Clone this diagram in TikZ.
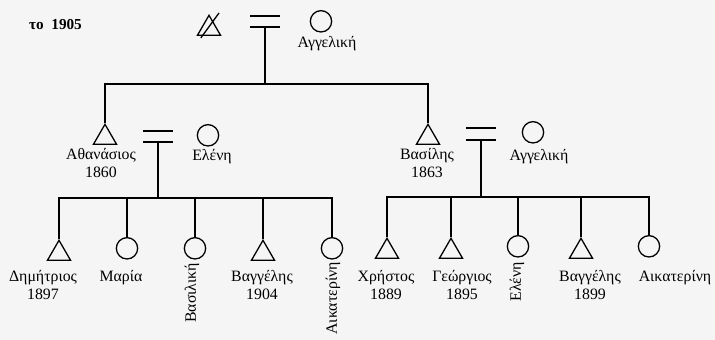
\documentclass[tikz,border=0pt]{standalone}
\usepackage{fontspec}
\setmainfont{Liberation Serif}
\usetikzlibrary{shapes.geometric,calc}

\tikzset{
    male/.style={regular polygon, regular polygon sides=3, draw, line width=1.1pt, minimum size=0.8cm, inner sep=0pt, anchor=north},
    female/.style={circle, draw, line width=1.1pt, minimum size=0.64cm, inner sep=0pt, anchor=north},
    pname/.style={font=\fontsize{13.5}{15.5}\selectfont, align=center, inner sep=0pt, anchor=north},
    vpname/.style={font=\fontsize{13.5}{15.5}\selectfont, inner sep=0pt, rotate=90, anchor=east},
    tie/.style={line width=1.5pt}
}

\begin{document}
\begin{tikzpicture}[x=0.03cm, y=-0.03cm]
    % Frame
    \fill[black!4] (0,0) rectangle (715,340);
    \useasboundingbox (0,0) rectangle (715,340);
    \node[font=\fontsize{13}{15}\selectfont\bfseries, inner sep=0pt] (year) at (55.5,25) {το\ \ 1905};
    % Reference coordinates
    \coordinate (m0) at (265,27);
    \coordinate (j0) at (265,84);
    \coordinate (mA) at (158,142);
    \coordinate (jA) at (158,198);
    \coordinate (mB) at (481,140);
    \coordinate (jB) at (481,197);
    % First generation
    \node[male] (pat) at (209,14) {};
    \draw[line width=1.1pt] ($(pat.corner 2)+(4.5,2)$) -- ($(pat.corner 1)+(10,-1)$);
    \node[female] (mat) at (321,10) {};
    \node[pname] (matname) at (327,36) {Αγγελική};
    \draw[tie] ($(m0)+(-15,-11)$) -- ++(30,0);
    \draw[tie] ($(m0)+(-15,0)$) -- ++(30,0);
    % Second generation
    \node[male] (ath) at (105,123) {};
    \node[pname] (athname) at (101,148) {Αθανάσιος\\1860};
    \node[female] (ele) at (208,124) {};
    \node[pname] (elename) at (212,149) {Ελένη};
    \draw[tie] ($(mA)+(-15,-11)$) -- ++(30,0);
    \draw[tie] ($(mA)+(-15,0)$) -- ++(30,0);
    \node[male] (vas) at (428,123) {};
    \node[pname] (vasname) at (427,148) {Βασίλης\\1863};
    \node[female] (ang) at (533,121) {};
    \node[pname] (angname) at (539,149) {Αγγελική};
    \draw[tie] ($(mB)+(-15,-12)$) -- ++(30,0);
    \draw[tie] ($(mB)+(-15,0)$) -- ++(30,0);
    % Children of Athanasios
    \node[male] (dim) at (59,239) {};
    \node[female] (mar) at (127,237) {};
    \node[female] (vsk) at (195,237) {};
    \node[male] (vag1) at (263,239) {};
    \node[female] (aik1) at (332,237) {};
    \node[pname] (dimname) at (43,270) {Δημήτριος\\1897};
    \node[pname] (marname) at (121,270) {Μαρία};
    \node[vpname] (vskname) at (192,263) {Βασιλική};
    \node[pname] (vag1name) at (262,270) {Βαγγέλης\\1904};
    \node[vpname] (aik1name) at (333,262) {Αικατερίνη};
    % Children of Vasilis
    \node[male] (chr) at (387,237) {};
    \node[male] (geo) at (451,237) {};
    \node[female] (ele2) at (518,235) {};
    \node[male] (vag2) at (581,237) {};
    \node[female] (aik2) at (649,235) {};
    \node[pname] (chrname) at (386,270) {Χρήστος\\1889};
    \node[pname] (geoname) at (462,270) {Γεώργιος\\1895};
    \node[vpname] (ele2name) at (517,262) {Ελένη};
    \node[pname] (vag2name) at (590,270) {Βαγγέλης\\1899};
    \node[pname] (aik2name) at (675,270) {Αικατερίνη};
    % Descent lines
    \draw[tie] (m0) -- (j0);
    \draw[tie] (ath.north) |- (j0) -| (vas.north);
    \draw[tie] (mA) -- (jA);
    \draw[tie] (dim.north) -- (dim.north |- jA) -- (aik1.north |- jA) -- (aik1.north);
    \foreach \c in {mar,vsk,vag1}
        \draw[tie] (\c.north) -- (\c.north |- jA);
    \draw[tie] (mB) -- (jB);
    \draw[tie] (chr.north) -- (chr.north |- jB) -- (aik2.north |- jB) -- (aik2.north);
    \foreach \c in {geo,ele2,vag2}
        \draw[tie] (\c.north) -- (\c.north |- jB);
\end{tikzpicture}
\end{document}
